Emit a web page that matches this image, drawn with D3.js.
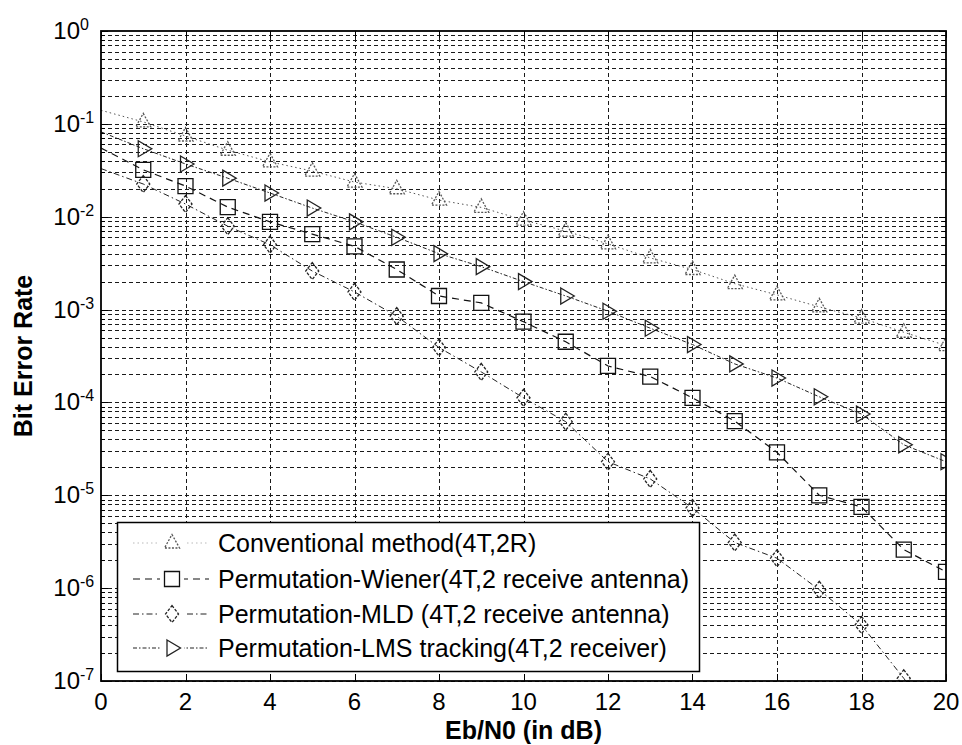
<!DOCTYPE html>
<html>
<head>
<meta charset="utf-8">
<script src="https://cdn.jsdelivr.net/npm/d3@7/dist/d3.min.js"></script>
<style>
  body { margin: 0; background: #fff; }
  text { font-family: "Liberation Sans", Arial, sans-serif; fill: #000; }
</style>
</head>
<body>
<svg id="chart" width="962" height="745"></svg>
<script>
// Eb/N0 in dB
var snr = [0,1,2,3,4,5,6,7,8,9,10,11,12,13,14,15,16,17,18,19,20];

// BER curves
var berConventional = [0.14, 0.105, 0.074, 0.052, 0.039, 0.031, 0.0236, 0.020, 0.0151, 0.0126, 0.0092,
  0.0070, 0.0051, 0.0036, 0.0027, 0.0019, 0.00144, 0.00107, 0.00081, 0.00057, 0.00041];
var berWiener = [0.055, 0.032, 0.0214, 0.0127, 0.0088, 0.0065, 0.0048, 0.0027, 0.0014, 0.00118, 0.00074,
  0.00045, 0.000247, 0.00019, 0.000112, 6.3e-5, 2.9e-5, 1.0e-5, 7.5e-6, 2.6e-6, 1.5e-6];
var berMLD = [0.033, 0.0225, 0.0137, 0.0079, 0.0050, 0.0026, 0.00155, 0.00085, 0.00039, 0.000213, 0.000112,
  6.2e-5, 2.3e-5, 1.5e-5, 7.3e-6, 3.1e-6, 2.1e-6, 9.6e-7, 4.0e-7, 1.07e-7, 2.5e-8];
var berLMS = [0.082, 0.054, 0.037, 0.026, 0.018, 0.0124, 0.0088, 0.0060, 0.0040, 0.0029, 0.0020,
  0.0014, 0.00096, 0.00063, 0.00042, 0.00026, 0.000183, 0.000115, 7.5e-5, 3.5e-5, 2.3e-5];

var legendLabels = [
  "Conventional method(4T,2R)",
  "Permutation-Wiener(4T,2 receive antenna)",
  "Permutation-MLD (4T,2 receive antenna)",
  "Permutation-LMS tracking(4T,2 receiver)"
];
var xTicks = [0,2,4,6,8,10,12,14,16,18,20];
var yExponents = [0,-1,-2,-3,-4,-5,-6,-7];

var svg = d3.select("#chart");
var pLeft = 101, pRight = 946, pTop = 31, pBottom = 681;

var x = d3.scaleLinear().domain([0, 20]).range([pLeft, pRight]);
var y = d3.scaleLog().domain([1e-7, 1]).range([pBottom, pTop]);

// grid
var minorVals = [];
yExponents.slice(1).forEach(function(e){
  for (var m = 1; m < 10; m++) minorVals.push(m * Math.pow(10, e));
});
var grid = svg.append("g").attr("stroke", "#1a1a1a").attr("stroke-width", 1).attr("stroke-dasharray", "4,3");
grid.selectAll("line.h").data(minorVals).enter().append("line")
  .attr("x1", pLeft).attr("x2", pRight)
  .attr("y1", function(d){ return Math.round(y(d)) + 0.5; })
  .attr("y2", function(d){ return Math.round(y(d)) + 0.5; });
grid.selectAll("line.v").data(xTicks.slice(1, -1)).enter().append("line")
  .attr("y1", pTop).attr("y2", pBottom)
  .attr("x1", function(d){ return Math.round(x(d)) + 0.5; })
  .attr("x2", function(d){ return Math.round(x(d)) + 0.5; });

// tick marks (inside, matlab style)
var ticks = svg.append("g").attr("stroke", "#000").attr("stroke-width", 1);
xTicks.forEach(function(t){
  var px = Math.round(x(t)) + 0.5;
  ticks.append("line").attr("x1", px).attr("x2", px).attr("y1", pBottom).attr("y2", pBottom - 7);
  ticks.append("line").attr("x1", px).attr("x2", px).attr("y1", pTop).attr("y2", pTop + 7);
});
minorVals.concat([1]).forEach(function(v){
  var py = Math.round(y(v)) + 0.5;
  var len = Math.abs(Math.log10(v) - Math.round(Math.log10(v))) < 1e-9 ? 7 : 4;
  ticks.append("line").attr("x1", pLeft).attr("x2", pLeft + len).attr("y1", py).attr("y2", py);
  ticks.append("line").attr("x1", pRight).attr("x2", pRight - len).attr("y1", py).attr("y2", py);
});

// data
svg.append("clipPath").attr("id", "plotclip").append("rect")
  .attr("x", pLeft).attr("y", pTop).attr("width", pRight - pLeft).attr("height", pBottom - pTop);

function markerPath(kind) {
  if (kind === "up") return "M0,-8.5L7.5,5L-7.5,5Z";
  if (kind === "square") return "M-7.5,-7.5H7.5V7.5H-7.5Z";
  if (kind === "diamond") return "M0,-8.5L6.5,0L0,8.5L-6.5,0Z";
  return "M-5,-8L8.5,0L-5,8Z";
}

var series = [
  {name: legendLabels[0], values: berConventional, marker: "up", color: "#555", width: 1, dash: "1.5,3", mdash: "2,1.5"},
  {name: legendLabels[1], values: berWiener, marker: "square", color: "#111", width: 1.2, dash: "7,5", mdash: null},
  {name: legendLabels[2], values: berMLD, marker: "diamond", color: "#222", width: 1, dash: "6,3,1.5,3", mdash: "3,1.5"},
  {name: legendLabels[3], values: berLMS, marker: "right", color: "#222", width: 1, dash: "4,2,1.5,2", mdash: null}
];

var line = d3.line()
  .x(function(d){ return x(d.x); })
  .y(function(d){ return y(d.y); });

var plot = svg.append("g").attr("clip-path", "url(#plotclip)");
series.forEach(function(s){
  var pts = snr.map(function(v, i){ return {x: v, y: s.values[i]}; });
  plot.append("path").datum(pts)
    .attr("d", line)
    .attr("fill", "none")
    .attr("stroke", s.color)
    .attr("stroke-width", s.width)
    .attr("stroke-dasharray", s.dash);
  plot.selectAll(null).data(pts.filter(function(d){ return d.x > 0; })).enter().append("path")
    .attr("d", markerPath(s.marker))
    .attr("transform", function(d){ return "translate(" + x(d.x) + "," + y(d.y) + ")"; })
    .attr("fill", "none")
    .attr("stroke", s.color)
    .attr("stroke-width", 1.3)
    .attr("stroke-dasharray", s.mdash);
});

// axes box
svg.append("rect").attr("x", pLeft).attr("y", pTop).attr("width", pRight - pLeft).attr("height", pBottom - pTop)
  .attr("fill", "none").attr("stroke", "#000").attr("stroke-width", 1.8);

// tick labels
svg.selectAll("text.xt").data(xTicks).enter().append("text")
  .attr("x", function(d){ return x(d); })
  .attr("y", pBottom + 29)
  .attr("text-anchor", "middle")
  .attr("font-size", 24)
  .text(function(d){ return d; });

var yl = svg.selectAll("g.yt").data(yExponents).enter().append("g")
  .attr("transform", function(d){ return "translate(80," + y(Math.pow(10, d)) + ")"; });
yl.append("text").attr("x", 0).attr("y", 8).attr("text-anchor", "end").attr("font-size", 24).text("10");
yl.append("text").attr("x", 0).attr("y", -1).attr("font-size", 16)
  .text(function(d){ return d === 0 ? "0" : "-" + Math.abs(d); });

// axis titles
svg.append("text").attr("x", (pLeft + pRight) / 2).attr("y", 739)
  .attr("text-anchor", "middle").attr("font-size", 25).attr("font-weight", "bold")
  .text("Eb/N0 (in dB)");
svg.append("text").attr("transform", "translate(32," + (pTop + pBottom) / 2 + ") rotate(-90)")
  .attr("text-anchor", "middle").attr("font-size", 25).attr("font-weight", "bold")
  .text("Bit Error Rate");

// legend
var lg = svg.append("g");
lg.append("rect").attr("x", 117.5).attr("y", 522.5).attr("width", 582).attr("height", 149)
  .attr("fill", "#fff").attr("stroke", "#000").attr("stroke-width", 1.5);
var rowY = [543, 579, 614, 648];
series.forEach(function(s, i){
  var g = lg.append("g").attr("transform", "translate(0," + rowY[i] + ")");
  g.append("line").attr("x1", 133).attr("x2", 209).attr("y1", 0).attr("y2", 0)
    .attr("stroke", s.color).attr("stroke-width", s.width).attr("stroke-dasharray", s.dash)
    .attr("opacity", i === 0 ? 0.4 : 1);
  g.append("rect").attr("x", 160).attr("y", -9).attr("width", 24).attr("height", 18).attr("fill", "#fff");
  g.append("path").attr("d", markerPath(s.marker)).attr("transform", "translate(172,0)")
    .attr("fill", "none").attr("stroke", s.color).attr("stroke-width", 1.3).attr("stroke-dasharray", s.mdash);
  g.append("text").attr("x", 218).attr("y", 9).attr("font-size", 25).text(s.name);
});
</script>
</body>
</html>
